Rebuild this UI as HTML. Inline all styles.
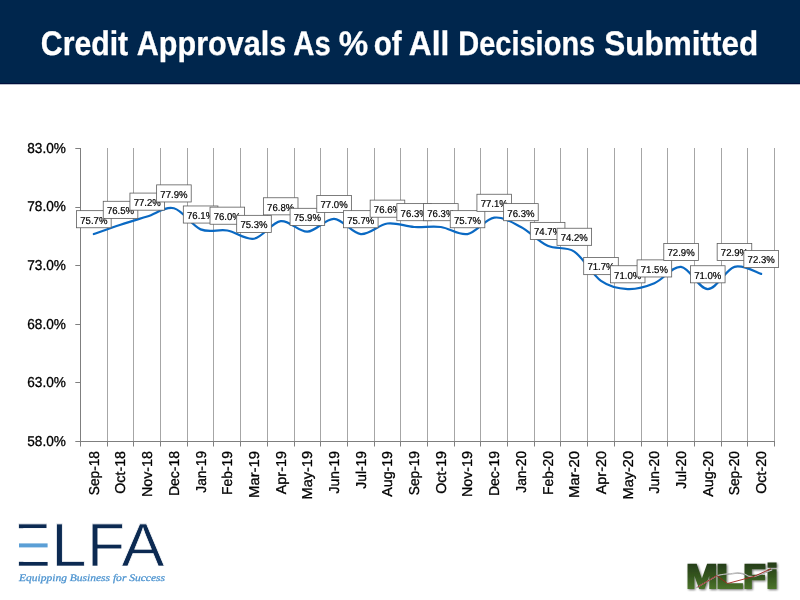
<!DOCTYPE html>
<html lang="en"><head><meta charset="utf-8"><title>Credit Approvals As % of All Decisions Submitted</title>
<style>html,body{margin:0;padding:0;background:#fff;}body{width:800px;height:600px;overflow:hidden;}svg{display:block;}text{font-family:"Liberation Sans",sans-serif;text-rendering:geometricPrecision;}</style></head><body>
<svg width="800" height="600" viewBox="0 0 800 600">
<defs><linearGradient id="mg" x1="0" y1="0" x2="0" y2="1"><stop offset="0" stop-color="#1e3216"/><stop offset="0.5" stop-color="#35561f"/><stop offset="1" stop-color="#55822f"/></linearGradient><filter id="sh" x="-10%" y="-10%" width="130%" height="140%"><feGaussianBlur in="SourceAlpha" stdDeviation="0.8"/><feOffset dx="1" dy="1.2"/><feComponentTransfer><feFuncA type="linear" slope="0.55"/></feComponentTransfer><feMerge><feMergeNode/><feMergeNode in="SourceGraphic"/></feMerge></filter></defs>
<rect x="0" y="0" width="800" height="83" fill="#00264d"/>
<rect x="0" y="83" width="800" height="1" fill="#000f3c"/>
<rect x="0" y="84" width="800" height="1" fill="#b9bfcc"/>
<text y="54.9" font-size="34" font-weight="700" fill="#fff" stroke="#fff" stroke-width="0.3"><tspan x="40.8" textLength="87.4" lengthAdjust="spacingAndGlyphs">Credit</tspan> <tspan x="136.8" textLength="149.4" lengthAdjust="spacingAndGlyphs">Approvals</tspan> <tspan x="293.3" textLength="37.4" lengthAdjust="spacingAndGlyphs">As</tspan> <tspan x="338.8" textLength="29.4" lengthAdjust="spacingAndGlyphs">%</tspan> <tspan x="373.8" textLength="27.9" lengthAdjust="spacingAndGlyphs">of</tspan> <tspan x="408.8" textLength="40.4" lengthAdjust="spacingAndGlyphs">All</tspan> <tspan x="458.3" textLength="136.9" lengthAdjust="spacingAndGlyphs">Decisions</tspan> <tspan x="604.3" textLength="153.9" lengthAdjust="spacingAndGlyphs">Submitted</tspan></text>
<path d="M107.5 148.0V441.5M133.5 148.0V441.5M160.5 148.0V441.5M187.5 148.0V441.5M213.5 148.0V441.5M240.5 148.0V441.5M267.5 148.0V441.5M294.5 148.0V441.5M320.5 148.0V441.5M347.5 148.0V441.5M374.5 148.0V441.5M400.5 148.0V441.5M427.5 148.0V441.5M454.5 148.0V441.5M480.5 148.0V441.5M507.5 148.0V441.5M534.5 148.0V441.5M560.5 148.0V441.5M587.5 148.0V441.5M614.5 148.0V441.5M641.5 148.0V441.5M667.5 148.0V441.5M694.5 148.0V441.5M721.5 148.0V441.5M747.5 148.0V441.5M774.5 148.0V441.5" stroke="#a6a6a6" stroke-width="1" fill="none"/>
<path d="M80.5 148.0V442.0M75.3 441.5H775.0M75.3 148.5H80.5M75.3 207.5H80.5M75.3 265.5H80.5M75.3 324.5H80.5M75.3 382.5H80.5M80.5 441.5V446.5M107.5 441.5V446.5M133.5 441.5V446.5M160.5 441.5V446.5M187.5 441.5V446.5M213.5 441.5V446.5M240.5 441.5V446.5M267.5 441.5V446.5M294.5 441.5V446.5M320.5 441.5V446.5M347.5 441.5V446.5M374.5 441.5V446.5M400.5 441.5V446.5M427.5 441.5V446.5M454.5 441.5V446.5M480.5 441.5V446.5M507.5 441.5V446.5M534.5 441.5V446.5M560.5 441.5V446.5M587.5 441.5V446.5M614.5 441.5V446.5M641.5 441.5V446.5M667.5 441.5V446.5M694.5 441.5V446.5M721.5 441.5V446.5M747.5 441.5V446.5M774.5 441.5V446.5" stroke="#7f7f7f" stroke-width="1" fill="none"/>
<text x="65.9" y="152.85" font-size="14.3" text-anchor="end" textLength="38.6" lengthAdjust="spacingAndGlyphs" fill="#000" stroke="#000" stroke-width="0.3">83.0%</text>
<text x="65.9" y="211.45" font-size="14.3" text-anchor="end" textLength="38.6" lengthAdjust="spacingAndGlyphs" fill="#000" stroke="#000" stroke-width="0.3">78.0%</text>
<text x="65.9" y="270.05" font-size="14.3" text-anchor="end" textLength="38.6" lengthAdjust="spacingAndGlyphs" fill="#000" stroke="#000" stroke-width="0.3">73.0%</text>
<text x="65.9" y="328.65" font-size="14.3" text-anchor="end" textLength="38.6" lengthAdjust="spacingAndGlyphs" fill="#000" stroke="#000" stroke-width="0.3">68.0%</text>
<text x="65.9" y="387.25" font-size="14.3" text-anchor="end" textLength="38.6" lengthAdjust="spacingAndGlyphs" fill="#000" stroke="#000" stroke-width="0.3">63.0%</text>
<text x="65.9" y="445.85" font-size="14.3" text-anchor="end" textLength="38.6" lengthAdjust="spacingAndGlyphs" fill="#000" stroke="#000" stroke-width="0.3">58.0%</text>
<text transform="translate(98.75 451) rotate(-90)" font-size="14.3" text-anchor="end" textLength="44.24" lengthAdjust="spacingAndGlyphs" fill="#000" stroke="#000" stroke-width="0.3">Sep-18</text>
<text transform="translate(125.44 451) rotate(-90)" font-size="14.3" text-anchor="end" textLength="42.74" lengthAdjust="spacingAndGlyphs" fill="#000" stroke="#000" stroke-width="0.3">Oct-18</text>
<text transform="translate(152.13 451) rotate(-90)" font-size="14.3" text-anchor="end" textLength="46.07" lengthAdjust="spacingAndGlyphs" fill="#000" stroke="#000" stroke-width="0.3">Nov-18</text>
<text transform="translate(178.82 451) rotate(-90)" font-size="14.3" text-anchor="end" textLength="45.09" lengthAdjust="spacingAndGlyphs" fill="#000" stroke="#000" stroke-width="0.3">Dec-18</text>
<text transform="translate(205.52 451) rotate(-90)" font-size="14.3" text-anchor="end" textLength="41.69" lengthAdjust="spacingAndGlyphs" fill="#000" stroke="#000" stroke-width="0.3">Jan-19</text>
<text transform="translate(232.21 451) rotate(-90)" font-size="14.3" text-anchor="end" textLength="44.00" lengthAdjust="spacingAndGlyphs" fill="#000" stroke="#000" stroke-width="0.3">Feb-19</text>
<text transform="translate(258.90 451) rotate(-90)" font-size="14.3" text-anchor="end" textLength="46.97" lengthAdjust="spacingAndGlyphs" fill="#000" stroke="#000" stroke-width="0.3">Mar-19</text>
<text transform="translate(285.59 451) rotate(-90)" font-size="14.3" text-anchor="end" textLength="43.29" lengthAdjust="spacingAndGlyphs" fill="#000" stroke="#000" stroke-width="0.3">Apr-19</text>
<text transform="translate(312.28 451) rotate(-90)" font-size="14.3" text-anchor="end" textLength="48.46" lengthAdjust="spacingAndGlyphs" fill="#000" stroke="#000" stroke-width="0.3">May-19</text>
<text transform="translate(338.98 451) rotate(-90)" font-size="14.3" text-anchor="end" textLength="42.43" lengthAdjust="spacingAndGlyphs" fill="#000" stroke="#000" stroke-width="0.3">Jun-19</text>
<text transform="translate(365.67 451) rotate(-90)" font-size="14.3" text-anchor="end" textLength="37.70" lengthAdjust="spacingAndGlyphs" fill="#000" stroke="#000" stroke-width="0.3">Jul-19</text>
<text transform="translate(392.36 451) rotate(-90)" font-size="14.3" text-anchor="end" textLength="45.71" lengthAdjust="spacingAndGlyphs" fill="#000" stroke="#000" stroke-width="0.3">Aug-19</text>
<text transform="translate(419.05 451) rotate(-90)" font-size="14.3" text-anchor="end" textLength="44.24" lengthAdjust="spacingAndGlyphs" fill="#000" stroke="#000" stroke-width="0.3">Sep-19</text>
<text transform="translate(445.75 451) rotate(-90)" font-size="14.3" text-anchor="end" textLength="42.74" lengthAdjust="spacingAndGlyphs" fill="#000" stroke="#000" stroke-width="0.3">Oct-19</text>
<text transform="translate(472.44 451) rotate(-90)" font-size="14.3" text-anchor="end" textLength="46.07" lengthAdjust="spacingAndGlyphs" fill="#000" stroke="#000" stroke-width="0.3">Nov-19</text>
<text transform="translate(499.13 451) rotate(-90)" font-size="14.3" text-anchor="end" textLength="45.09" lengthAdjust="spacingAndGlyphs" fill="#000" stroke="#000" stroke-width="0.3">Dec-19</text>
<text transform="translate(525.82 451) rotate(-90)" font-size="14.3" text-anchor="end" textLength="41.69" lengthAdjust="spacingAndGlyphs" fill="#000" stroke="#000" stroke-width="0.3">Jan-20</text>
<text transform="translate(552.52 451) rotate(-90)" font-size="14.3" text-anchor="end" textLength="44.00" lengthAdjust="spacingAndGlyphs" fill="#000" stroke="#000" stroke-width="0.3">Feb-20</text>
<text transform="translate(579.21 451) rotate(-90)" font-size="14.3" text-anchor="end" textLength="46.97" lengthAdjust="spacingAndGlyphs" fill="#000" stroke="#000" stroke-width="0.3">Mar-20</text>
<text transform="translate(605.90 451) rotate(-90)" font-size="14.3" text-anchor="end" textLength="43.29" lengthAdjust="spacingAndGlyphs" fill="#000" stroke="#000" stroke-width="0.3">Apr-20</text>
<text transform="translate(632.59 451) rotate(-90)" font-size="14.3" text-anchor="end" textLength="48.46" lengthAdjust="spacingAndGlyphs" fill="#000" stroke="#000" stroke-width="0.3">May-20</text>
<text transform="translate(659.28 451) rotate(-90)" font-size="14.3" text-anchor="end" textLength="42.43" lengthAdjust="spacingAndGlyphs" fill="#000" stroke="#000" stroke-width="0.3">Jun-20</text>
<text transform="translate(685.98 451) rotate(-90)" font-size="14.3" text-anchor="end" textLength="37.70" lengthAdjust="spacingAndGlyphs" fill="#000" stroke="#000" stroke-width="0.3">Jul-20</text>
<text transform="translate(712.67 451) rotate(-90)" font-size="14.3" text-anchor="end" textLength="45.71" lengthAdjust="spacingAndGlyphs" fill="#000" stroke="#000" stroke-width="0.3">Aug-20</text>
<text transform="translate(739.36 451) rotate(-90)" font-size="14.3" text-anchor="end" textLength="44.24" lengthAdjust="spacingAndGlyphs" fill="#000" stroke="#000" stroke-width="0.3">Sep-20</text>
<text transform="translate(766.05 451) rotate(-90)" font-size="14.3" text-anchor="end" textLength="42.74" lengthAdjust="spacingAndGlyphs" fill="#000" stroke="#000" stroke-width="0.3">Oct-20</text>
<path d="M93.85 234.06C98.29 232.49 111.64 227.61 120.54 224.68C129.44 221.75 138.33 219.21 147.23 216.48C156.13 213.74 165.03 206.12 173.92 208.27C182.82 210.42 191.72 225.66 200.62 229.37C209.51 233.08 218.41 228.98 227.31 230.54C236.21 232.10 245.10 240.31 254.00 238.74C262.90 237.18 271.79 222.34 280.69 221.16C289.59 219.99 298.49 232.10 307.38 231.71C316.28 231.32 325.18 218.43 334.08 218.82C342.97 219.21 351.87 233.27 360.77 234.06C369.67 234.84 378.56 224.68 387.46 223.51C396.36 222.34 405.26 226.44 414.15 227.02C423.05 227.61 431.95 225.85 440.85 227.02C449.74 228.20 458.64 235.62 467.54 234.06C476.44 232.49 485.33 218.82 494.23 217.65C503.13 216.48 512.03 222.34 520.92 227.02C529.82 231.71 538.72 241.67 547.62 245.78C556.51 249.88 565.41 245.78 574.31 251.64C583.21 257.50 592.10 274.69 601.00 280.94C609.90 287.19 618.79 288.75 627.69 289.14C636.59 289.53 645.49 286.99 654.38 283.28C663.28 279.57 672.18 265.90 681.08 266.87C689.97 267.85 698.87 289.14 707.77 289.14C716.67 289.14 725.56 269.41 734.46 266.87C743.36 264.33 756.71 272.73 761.15 273.90" stroke="#0a69c3" stroke-width="2.2" fill="none" stroke-linecap="round" stroke-linejoin="round"/>
<rect x="76.55" y="210.66" width="34.6" height="17.1" fill="#fff" stroke="#5c5c5c" stroke-width="0.8"/>
<text x="93.85" y="223.56" font-size="10" text-anchor="middle" textLength="27.2" lengthAdjust="spacingAndGlyphs" fill="#000" stroke="#000" stroke-width="0.2">75.7%</text>
<rect x="103.24" y="201.28" width="34.6" height="17.1" fill="#fff" stroke="#5c5c5c" stroke-width="0.8"/>
<text x="120.54" y="214.18" font-size="10" text-anchor="middle" textLength="27.2" lengthAdjust="spacingAndGlyphs" fill="#000" stroke="#000" stroke-width="0.2">76.5%</text>
<rect x="129.93" y="193.08" width="34.6" height="17.1" fill="#fff" stroke="#5c5c5c" stroke-width="0.8"/>
<text x="147.23" y="205.98" font-size="10" text-anchor="middle" textLength="27.2" lengthAdjust="spacingAndGlyphs" fill="#000" stroke="#000" stroke-width="0.2">77.2%</text>
<rect x="156.62" y="184.87" width="34.6" height="17.1" fill="#fff" stroke="#5c5c5c" stroke-width="0.8"/>
<text x="173.92" y="197.77" font-size="10" text-anchor="middle" textLength="27.2" lengthAdjust="spacingAndGlyphs" fill="#000" stroke="#000" stroke-width="0.2">77.9%</text>
<rect x="183.32" y="205.97" width="34.6" height="17.1" fill="#fff" stroke="#5c5c5c" stroke-width="0.8"/>
<text x="200.62" y="218.87" font-size="10" text-anchor="middle" textLength="27.2" lengthAdjust="spacingAndGlyphs" fill="#000" stroke="#000" stroke-width="0.2">76.1%</text>
<rect x="210.01" y="207.14" width="34.6" height="17.1" fill="#fff" stroke="#5c5c5c" stroke-width="0.8"/>
<text x="227.31" y="220.04" font-size="10" text-anchor="middle" textLength="27.2" lengthAdjust="spacingAndGlyphs" fill="#000" stroke="#000" stroke-width="0.2">76.0%</text>
<rect x="236.70" y="215.34" width="34.6" height="17.1" fill="#fff" stroke="#5c5c5c" stroke-width="0.8"/>
<text x="254.00" y="228.24" font-size="10" text-anchor="middle" textLength="27.2" lengthAdjust="spacingAndGlyphs" fill="#000" stroke="#000" stroke-width="0.2">75.3%</text>
<rect x="263.39" y="197.76" width="34.6" height="17.1" fill="#fff" stroke="#5c5c5c" stroke-width="0.8"/>
<text x="280.69" y="210.66" font-size="10" text-anchor="middle" textLength="27.2" lengthAdjust="spacingAndGlyphs" fill="#000" stroke="#000" stroke-width="0.2">76.8%</text>
<rect x="290.08" y="208.31" width="34.6" height="17.1" fill="#fff" stroke="#5c5c5c" stroke-width="0.8"/>
<text x="307.38" y="221.21" font-size="10" text-anchor="middle" textLength="27.2" lengthAdjust="spacingAndGlyphs" fill="#000" stroke="#000" stroke-width="0.2">75.9%</text>
<rect x="316.78" y="195.42" width="34.6" height="17.1" fill="#fff" stroke="#5c5c5c" stroke-width="0.8"/>
<text x="334.08" y="208.32" font-size="10" text-anchor="middle" textLength="27.2" lengthAdjust="spacingAndGlyphs" fill="#000" stroke="#000" stroke-width="0.2">77.0%</text>
<rect x="343.47" y="210.66" width="34.6" height="17.1" fill="#fff" stroke="#5c5c5c" stroke-width="0.8"/>
<text x="360.77" y="223.56" font-size="10" text-anchor="middle" textLength="27.2" lengthAdjust="spacingAndGlyphs" fill="#000" stroke="#000" stroke-width="0.2">75.7%</text>
<rect x="370.16" y="200.11" width="34.6" height="17.1" fill="#fff" stroke="#5c5c5c" stroke-width="0.8"/>
<text x="387.46" y="213.01" font-size="10" text-anchor="middle" textLength="27.2" lengthAdjust="spacingAndGlyphs" fill="#000" stroke="#000" stroke-width="0.2">76.6%</text>
<rect x="396.85" y="203.62" width="34.6" height="17.1" fill="#fff" stroke="#5c5c5c" stroke-width="0.8"/>
<text x="414.15" y="216.52" font-size="10" text-anchor="middle" textLength="27.2" lengthAdjust="spacingAndGlyphs" fill="#000" stroke="#000" stroke-width="0.2">76.3%</text>
<rect x="423.55" y="203.62" width="34.6" height="17.1" fill="#fff" stroke="#5c5c5c" stroke-width="0.8"/>
<text x="440.85" y="216.52" font-size="10" text-anchor="middle" textLength="27.2" lengthAdjust="spacingAndGlyphs" fill="#000" stroke="#000" stroke-width="0.2">76.3%</text>
<rect x="450.24" y="210.66" width="34.6" height="17.1" fill="#fff" stroke="#5c5c5c" stroke-width="0.8"/>
<text x="467.54" y="223.56" font-size="10" text-anchor="middle" textLength="27.2" lengthAdjust="spacingAndGlyphs" fill="#000" stroke="#000" stroke-width="0.2">75.7%</text>
<rect x="476.93" y="194.25" width="34.6" height="17.1" fill="#fff" stroke="#5c5c5c" stroke-width="0.8"/>
<text x="494.23" y="207.15" font-size="10" text-anchor="middle" textLength="27.2" lengthAdjust="spacingAndGlyphs" fill="#000" stroke="#000" stroke-width="0.2">77.1%</text>
<rect x="503.62" y="203.62" width="34.6" height="17.1" fill="#fff" stroke="#5c5c5c" stroke-width="0.8"/>
<text x="520.92" y="216.52" font-size="10" text-anchor="middle" textLength="27.2" lengthAdjust="spacingAndGlyphs" fill="#000" stroke="#000" stroke-width="0.2">76.3%</text>
<rect x="530.32" y="222.38" width="34.6" height="17.1" fill="#fff" stroke="#5c5c5c" stroke-width="0.8"/>
<text x="547.62" y="235.28" font-size="10" text-anchor="middle" textLength="27.2" lengthAdjust="spacingAndGlyphs" fill="#000" stroke="#000" stroke-width="0.2">74.7%</text>
<rect x="557.01" y="228.24" width="34.6" height="17.1" fill="#fff" stroke="#5c5c5c" stroke-width="0.8"/>
<text x="574.31" y="241.14" font-size="10" text-anchor="middle" textLength="27.2" lengthAdjust="spacingAndGlyphs" fill="#000" stroke="#000" stroke-width="0.2">74.2%</text>
<rect x="583.70" y="257.54" width="34.6" height="17.1" fill="#fff" stroke="#5c5c5c" stroke-width="0.8"/>
<text x="601.00" y="270.44" font-size="10" text-anchor="middle" textLength="27.2" lengthAdjust="spacingAndGlyphs" fill="#000" stroke="#000" stroke-width="0.2">71.7%</text>
<rect x="610.39" y="265.74" width="34.6" height="17.1" fill="#fff" stroke="#5c5c5c" stroke-width="0.8"/>
<text x="627.69" y="278.64" font-size="10" text-anchor="middle" textLength="27.2" lengthAdjust="spacingAndGlyphs" fill="#000" stroke="#000" stroke-width="0.2">71.0%</text>
<rect x="637.08" y="259.88" width="34.6" height="17.1" fill="#fff" stroke="#5c5c5c" stroke-width="0.8"/>
<text x="654.38" y="272.78" font-size="10" text-anchor="middle" textLength="27.2" lengthAdjust="spacingAndGlyphs" fill="#000" stroke="#000" stroke-width="0.2">71.5%</text>
<rect x="663.78" y="243.47" width="34.6" height="17.1" fill="#fff" stroke="#5c5c5c" stroke-width="0.8"/>
<text x="681.08" y="256.37" font-size="10" text-anchor="middle" textLength="27.2" lengthAdjust="spacingAndGlyphs" fill="#000" stroke="#000" stroke-width="0.2">72.9%</text>
<rect x="690.47" y="265.74" width="34.6" height="17.1" fill="#fff" stroke="#5c5c5c" stroke-width="0.8"/>
<text x="707.77" y="278.64" font-size="10" text-anchor="middle" textLength="27.2" lengthAdjust="spacingAndGlyphs" fill="#000" stroke="#000" stroke-width="0.2">71.0%</text>
<rect x="717.16" y="243.47" width="34.6" height="17.1" fill="#fff" stroke="#5c5c5c" stroke-width="0.8"/>
<text x="734.46" y="256.37" font-size="10" text-anchor="middle" textLength="27.2" lengthAdjust="spacingAndGlyphs" fill="#000" stroke="#000" stroke-width="0.2">72.9%</text>
<rect x="743.85" y="250.50" width="34.6" height="17.1" fill="#fff" stroke="#5c5c5c" stroke-width="0.8"/>
<text x="761.15" y="263.40" font-size="10" text-anchor="middle" textLength="27.2" lengthAdjust="spacingAndGlyphs" fill="#000" stroke="#000" stroke-width="0.2">72.3%</text>
<text y="566.4" font-size="61.34" fill="#0c2a52" stroke="#fff" stroke-width="0.7"><tspan x="14.22" textLength="36.06" lengthAdjust="spacingAndGlyphs">E</tspan><tspan x="51.26" textLength="35.19" lengthAdjust="spacingAndGlyphs">L</tspan><tspan x="87.04" textLength="38.05" lengthAdjust="spacingAndGlyphs">F</tspan><tspan x="121.52" textLength="42.95" lengthAdjust="spacingAndGlyphs">A</tspan></text>
<rect x="17" y="528.2" width="32" height="33.6" fill="#fff"/>
<rect x="19" y="543.4" width="28.6" height="4" fill="#5b9fd6"/>
<text x="19" y="580.6" font-size="10" font-style="italic" fill="#4a92cf" stroke="#4a92cf" stroke-width="0.25" style="font-family:'Liberation Serif',serif" textLength="146" lengthAdjust="spacingAndGlyphs">Equipping Business for Success</text>
<g filter="url(#sh)"><text y="587.5" font-size="34" font-weight="700" fill="url(#mg)" stroke="url(#mg)" stroke-width="1.8" stroke-linejoin="miter"><tspan x="685.96" textLength="31.69" lengthAdjust="spacingAndGlyphs">M</tspan><tspan x="715.70" textLength="27.38" lengthAdjust="spacingAndGlyphs">L</tspan><tspan x="743.01" textLength="22.76" lengthAdjust="spacingAndGlyphs">F</tspan><tspan x="765.59" textLength="13.16" lengthAdjust="spacingAndGlyphs">i</tspan></text></g>
<path d="M696.5 587.7L716.9 575.8C721 574.3 725 574 735 573.3S745 574.5 748.5 576.2L754.3 576.6L772.2 569.9" stroke="#6a6a6a" stroke-width="1.3" fill="none" stroke-linejoin="round"/>
<path d="M696.5 587.7L716.9 575.8C721 574.3 725 574 735 573.3S745 574.5 748.5 576.2L754.3 576.6L772.2 569.9" stroke="#f4f4f4" stroke-width="0.7" fill="none" stroke-linejoin="round"/>
<path d="M697.9 586.9L716.9 575.6L727.5 583.5L754.3 576.3L770.8 568.8" stroke="#a3241d" stroke-width="0.9" fill="none"/>
</svg></body></html>
